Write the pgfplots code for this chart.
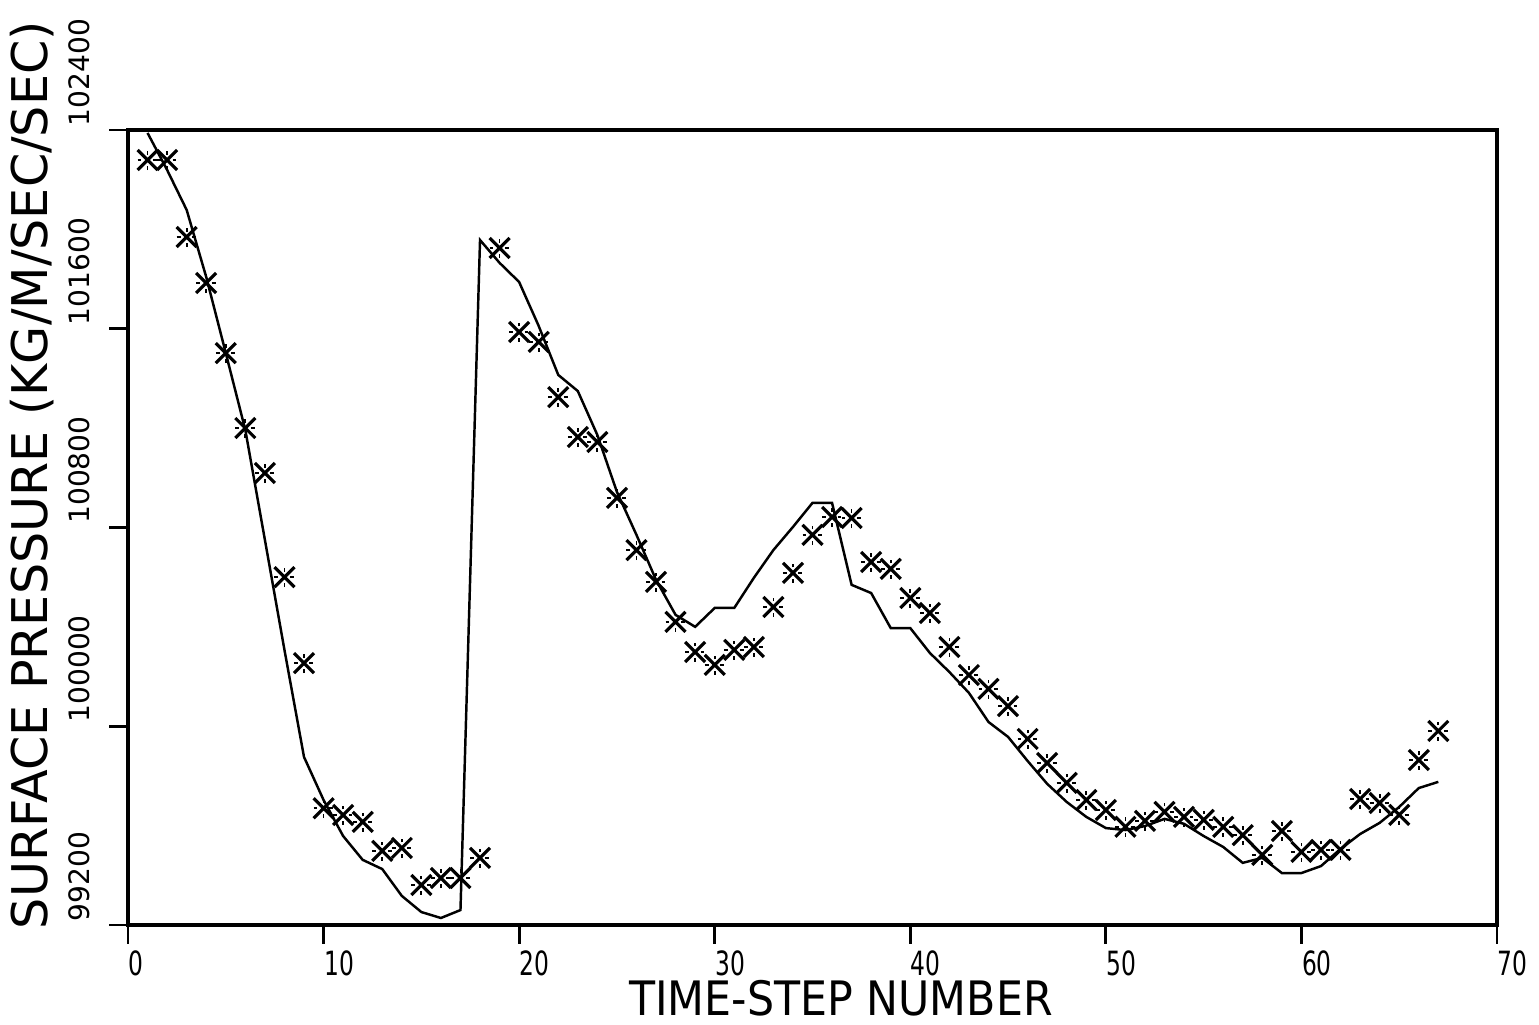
\documentclass[border=0pt]{standalone}
\usepackage{fontspec}
\setmainfont{DejaVu Sans}
\usepackage{graphicx}
\usepackage{pgfplots}
\pgfplotsset{compat=1.18}
\usepackage{pgfplotstable}

% plotter-style asterisk: solid diagonals, dotted cross
\pgfdeclareplotmark{plotstar}{%
  \pgfsetdash{}{0pt}%
  \pgfsetlinewidth{0.9pt}%
  \pgfpathmoveto{\pgfqpoint{-\pgfplotmarksize}{-\pgfplotmarksize}}%
  \pgfpathlineto{\pgfqpoint{\pgfplotmarksize}{\pgfplotmarksize}}%
  \pgfpathmoveto{\pgfqpoint{-\pgfplotmarksize}{\pgfplotmarksize}}%
  \pgfpathlineto{\pgfqpoint{\pgfplotmarksize}{-\pgfplotmarksize}}%
  \pgfusepathqstroke
  \pgfsetlinewidth{0.5pt}%
  \pgfsetdash{{1.1pt}{1.1pt}}{0pt}%
  \pgfpathmoveto{\pgfqpoint{0pt}{-\pgfplotmarksize}}%
  \pgfpathlineto{\pgfqpoint{0pt}{\pgfplotmarksize}}%
  \pgfpathmoveto{\pgfqpoint{-\pgfplotmarksize}{0pt}}%
  \pgfpathlineto{\pgfqpoint{\pgfplotmarksize}{0pt}}%
  \pgfusepathqstroke
  \pgfsetdash{}{0pt}%
}

\newcommand{\sx}[1]{\scalebox{0.7}[1]{#1}}

% model run (solid line)
\pgfplotstableread{
t p
1 102388
2 102239
3 102078
4 101808
5 101502
6 101192
7 100750
8 100307
9 99876
10 99703
11 99558
12 99462
13 99425
14 99317
15 99252
16 99228
17 99260
18 101957
19 101865
20 101788
21 101611
22 101414
23 101349
24 101172
25 100943
26 100770
27 100589
28 100448
29 100400
30 100476
31 100476
32 100597
33 100709
34 100802
35 100899
36 100899
37 100569
38 100536
39 100395
40 100395
41 100295
42 100218
43 100134
44 100017
45 99957
46 99860
47 99768
48 99695
49 99635
50 99590
51 99582
52 99598
53 99627
54 99607
55 99558
56 99514
57 99450
58 99470
59 99409
60 99409
61 99437
62 99506
63 99566
64 99611
65 99675
66 99751
67 99776
}\model

% observations (asterisks)
\pgfplotstableread{
t p
1 102279
2 102279
3 101969
4 101784
5 101502
6 101200
7 101019
8 100600
9 100254
10 99670
11 99643
12 99615
13 99498
14 99510
15 99361
16 99389
17 99389
18 99470
19 101925
20 101587
21 101547
22 101325
23 101164
24 101144
25 100919
26 100709
27 100581
28 100420
29 100299
30 100247
31 100307
32 100319
33 100480
34 100617
35 100770
36 100842
37 100838
38 100661
39 100633
40 100516
41 100456
42 100319
43 100206
44 100150
45 100081
46 99949
47 99852
48 99772
49 99703
50 99663
51 99595
52 99619
53 99655
54 99635
55 99623
56 99595
57 99562
58 99482
59 99578
60 99494
61 99502
62 99502
63 99707
64 99691
65 99643
66 99864
67 99981
}\obs

\begin{document}
\begin{tikzpicture}
\begin{axis}[
    scale only axis,
    width=136.9mm, height=79.5mm,
    xmin=0, xmax=70,
    ymin=99200, ymax=102400,
    scaled y ticks=false,
    clip=false,
    axis line style={line width=0.9pt},
    xtick={0,10,...,70},
    xticklabels={\sx{0},\sx{10},\sx{20},\sx{30},\sx{40},\sx{50},\sx{60},\sx{70}},
    ytick={99200,100000,100800,101600,102400},
    yticklabels={99200,100000,100800,101600,102400},
    xtick pos=bottom, ytick pos=left,
    tick align=outside,
    major tick length=1.9mm,
    tick style={line width=0.8pt, black},
    xticklabel style={font=\fontsize{9.5}{10}\selectfont, anchor=north west, inner sep=0pt, yshift=-0.6mm},
    yticklabel style={font=\fontsize{8}{9}\selectfont, rotate=90, anchor=base west, inner sep=0pt, xshift=0.3mm, yshift=2mm},
]
\addplot[black, line width=0.7pt, mark=none] table[x=t, y=p] {\model};
\addplot[black, only marks, mark=plotstar, mark size=1mm] table[x=t, y=p] {\obs};

\node[rotate=90, anchor=base west, inner sep=0pt, font=\fontsize{14}{16}\selectfont]
  at (rel axis cs:-0.059,-0.006) {SURFACE PRESSURE (KG/M/SEC/SEC)};
\node[anchor=base, inner sep=0pt, font=\fontsize{13.5}{16}\selectfont]
  at (rel axis cs:0.5208,-0.1145) {\scalebox{0.9}[1]{TIME-STEP NUMBER}};

\coordinate (bbA) at (rel axis cs:-0.0935,-0.1258);
\coordinate (bbB) at (rel axis cs:1.0307,1.1635);
\end{axis}
\pgfresetboundingbox
\useasboundingbox (bbA) rectangle (bbB);
\end{tikzpicture}
\end{document}
